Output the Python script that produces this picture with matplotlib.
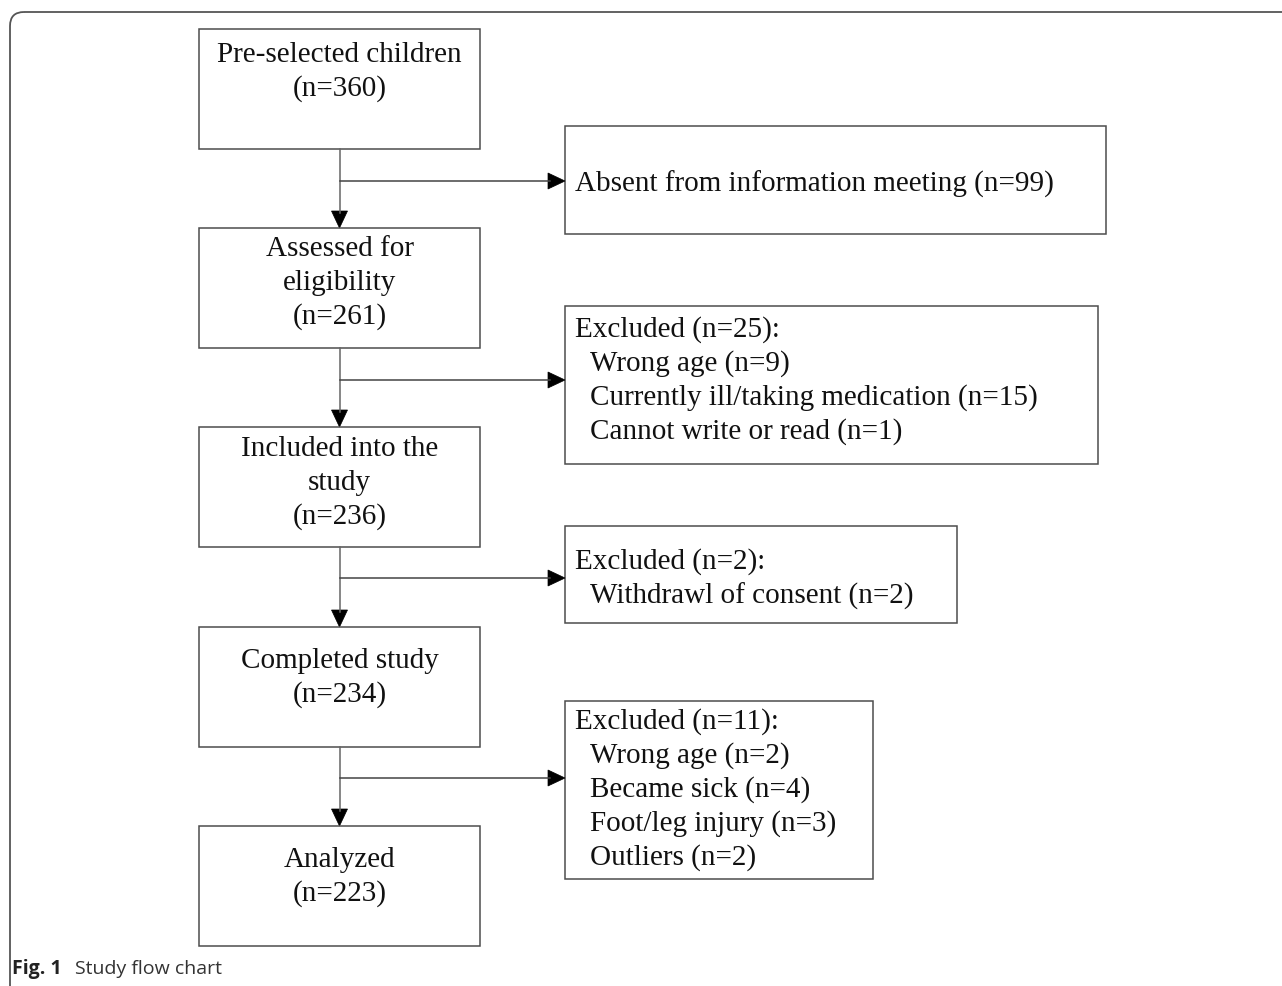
import matplotlib

matplotlib.use("Agg")

import matplotlib.pyplot as plt
from matplotlib.patches import FancyBboxPatch, Polygon, Rectangle

# flow steps (left column)
step_labels = ["Pre-selected children", "Assessed for\neligibility", "Included into the\nstudy",
               "Completed study", "Analyzed"]
step_n = [360, 261, 236, 234, 223]

# exclusion boxes (right column)
excl_titles = ["Absent from information meeting (n=99)", "Excluded (n=25):", "Excluded (n=2):",
               "Excluded (n=11):"]
excl_items = [
    [],
    ["Wrong age (n=9)", "Currently ill/taking medication (n=15)", "Cannot write or read (n=1)"],
    ["Withdrawl of consent (n=2)"],
    ["Wrong age (n=2)", "Became sick (n=4)", "Foot/leg injury (n=3)", "Outliers (n=2)"],
]

# layout in pixels
W, H = 1282, 987
left_x0, left_x1 = 199, 480
step_tops = [30, 229, 428, 628, 827]
step_h = 120
step_text_y = [55, 249, 449, 661, 860]
right_x0 = 565
right_x1 = [1106, 1098, 957, 873]
right_y = [(127, 235), (307, 465), (527, 624), (702, 880)]
right_text_y = [184, 330, 562, 722]
branch_y = [182, 381, 579, 779]
line_gap = 34

edge = "#4d4d4d"
serif = ["Liberation Serif", "DejaVu Serif"]
fs = 21

fig = plt.figure(figsize=(W / 100, H / 100), dpi=100)
ax = fig.add_axes([0, 0, 1, 1])
ax.set_xlim(0, W)
ax.set_ylim(H, 0)
ax.axis("off")

# outer frame: only top and left sides, rounded corner
ax.add_patch(FancyBboxPatch((10, 13), W + 40, H + 40, boxstyle="round,pad=0,rounding_size=14",
                            fill=False, ec="#555555", lw=1.3, clip_on=True))


def arrow_head(x, y, direction):
    # filled triangle, tip at (x, y)
    L, hw = 17, 8
    if direction == "down":
        pts = [(x, y), (x - hw, y - L), (x + hw, y - L)]
    else:
        pts = [(x, y), (x - L, y - hw), (x - L, y + hw)]
    ax.add_patch(Polygon(pts, closed=True, fc="black", ec="black", lw=0.5))


cx = (left_x0 + left_x1) / 2
for i, (lab, n) in enumerate(zip(step_labels, step_n)):
    top = step_tops[i]
    ax.add_patch(Rectangle((left_x0, top), left_x1 - left_x0, step_h, fill=False, ec=edge, lw=1.1))
    lines = lab.split("\n") + [f"(n={n})"]
    for k, s in enumerate(lines):
        ax.text(cx, step_text_y[i] + k * line_gap, s, ha="center", va="center", fontsize=fs,
                family=serif, color="#111111")
    if i < len(step_labels) - 1:
        nxt = step_tops[i + 1]
        ax.plot([cx, cx], [top + step_h, nxt - 15], color="#666666", lw=1.1)
        arrow_head(cx, nxt, "down")

for j, title in enumerate(excl_titles):
    y0, y1 = right_y[j]
    ax.add_patch(Rectangle((right_x0, y0), right_x1[j] - right_x0, y1 - y0, fill=False, ec=edge, lw=1.1))
    ax.text(575, right_text_y[j], title, ha="left", va="center", fontsize=fs, family=serif,
            color="#111111")
    for k, item in enumerate(excl_items[j]):
        ax.text(590, right_text_y[j] + (k + 1) * line_gap, item, ha="left", va="center", fontsize=fs,
                family=serif, color="#111111")
    by = branch_y[j]
    ax.plot([cx, right_x0 - 15], [by, by], color="#444444", lw=1.1)
    arrow_head(right_x0, by, "right")

# caption
ax.text(12, 969, "Fig. 1", ha="left", va="center", fontsize=14, family="Open Sans",
        fontweight="bold", color="#222222")
ax.text(75, 969, "Study flow chart", ha="left", va="center", fontsize=14, family="Open Sans",
        color="#333333")

fig.savefig("out.png", dpi=100)
